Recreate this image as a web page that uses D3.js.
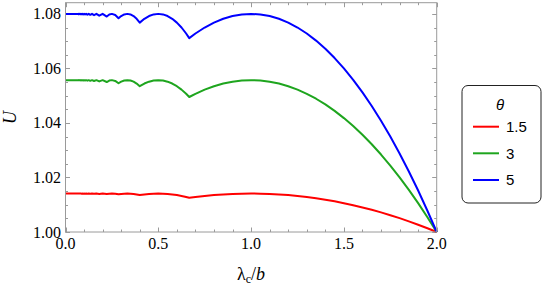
<!DOCTYPE html>
<html><head><meta charset="utf-8">
<script src="https://cdn.jsdelivr.net/npm/d3@7"></script>
<style>html,body{margin:0;padding:0;background:#fff;}svg{display:block;}</style>
</head><body>
<svg id="chart" width="545" height="289"></svg>
<script>
// ---- data ----
const lambdaOverB = [0, 0.06667, 0.06897, 0.07143, 0.07407, 0.07692, 0.08, 0.08333, 0.08696, 0.09091, 0.09524, 0.1, 0.10526, 0.11111, 0.11765, 0.125, 0.13333, 0.14286, 0.15385, 0.16667, 0.18182, 0.2, 0.22222, 0.2361, 0.25, 0.2679, 0.28571, 0.3, 0.31667, 0.33333, 0.35, 0.36667, 0.38333, 0.4, 0.425, 0.45, 0.475, 0.5, 0.525, 0.55, 0.575, 0.6, 0.625, 0.65, 0.66667, 0.7, 0.75, 0.8, 0.85, 0.9, 0.95, 1.0, 1.05, 1.1, 1.15, 1.2, 1.25, 1.3, 1.35, 1.4, 1.45, 1.5, 1.55, 1.6, 1.65, 1.7, 1.75, 1.8, 1.85, 1.9, 1.95, 2.0];

const uTheta15 = [1.0141, 1.0141, 1.01408, 1.0141, 1.01408, 1.0141, 1.01408, 1.0141, 1.01407, 1.0141, 1.01407, 1.0141, 1.01406, 1.0141, 1.01405, 1.0141, 1.01404, 1.0141, 1.01402, 1.0141, 1.01398, 1.0141, 1.01393, 1.01406, 1.0141, 1.01403, 1.01381, 1.01396, 1.01406, 1.0141, 1.01406, 1.01396, 1.01378, 1.01354, 1.01378, 1.01396, 1.01406, 1.0141, 1.01406, 1.01396, 1.01378, 1.01354, 1.01322, 1.01283, 1.01253, 1.01283, 1.01322, 1.01354, 1.01378, 1.01396, 1.01406, 1.0141, 1.01406, 1.01396, 1.01378, 1.01354, 1.01322, 1.01283, 1.01237, 1.01184, 1.01124, 1.01058, 1.00983, 1.00902, 1.00814, 1.00719, 1.00617, 1.00508, 1.00391, 1.00268, 1.00137, 1.0];

const uTheta3 = [1.0557, 1.0557, 1.05563, 1.0557, 1.05562, 1.0557, 1.05561, 1.0557, 1.05559, 1.0557, 1.05557, 1.0557, 1.05555, 1.0557, 1.05551, 1.0557, 1.05545, 1.0557, 1.05537, 1.0557, 1.05524, 1.0557, 1.05501, 1.05553, 1.0557, 1.05541, 1.05456, 1.05514, 1.05556, 1.0557, 1.05556, 1.05514, 1.05445, 1.05347, 1.05445, 1.05514, 1.05556, 1.0557, 1.05556, 1.05514, 1.05445, 1.05347, 1.05222, 1.05069, 1.04951, 1.05069, 1.05222, 1.05347, 1.05445, 1.05514, 1.05556, 1.0557, 1.05556, 1.05514, 1.05445, 1.05347, 1.05222, 1.05069, 1.04888, 1.04679, 1.04442, 1.04178, 1.03885, 1.03565, 1.03217, 1.02841, 1.02437, 1.02005, 1.01546, 1.01058, 1.00543, 1.0];

const uTheta5 = [1.08, 1.08, 1.0799, 1.08, 1.07989, 1.08, 1.07987, 1.08, 1.07985, 1.08, 1.07982, 1.08, 1.07978, 1.08, 1.07972, 1.08, 1.07964, 1.08, 1.07953, 1.08, 1.07934, 1.08, 1.07901, 1.07975, 1.08, 1.07959, 1.07837, 1.0792, 1.0798, 1.08, 1.0798, 1.0792, 1.0782, 1.0768, 1.0782, 1.0792, 1.0798, 1.08, 1.0798, 1.0792, 1.0782, 1.0768, 1.075, 1.0728, 1.07111, 1.0728, 1.075, 1.0768, 1.0782, 1.0792, 1.0798, 1.08, 1.0798, 1.0792, 1.0782, 1.0768, 1.075, 1.0728, 1.0702, 1.0672, 1.0638, 1.06, 1.0558, 1.0512, 1.0462, 1.0408, 1.035, 1.0288, 1.0222, 1.0152, 1.0078, 1.0];

const seriesNames = ["1.5", "3", "5"];
const seriesColors = ["#ff0000", "#1ea51e", "#0000ff"];
const xTickLabels = ["0.0", "0.5", "1.0", "1.5", "2.0"];
const yTickLabels = ["1.00", "1.02", "1.04", "1.06", "1.08"];
const xTickValues = [0, 0.5, 1.0, 1.5, 2.0];
const yTickValues = [1.00, 1.02, 1.04, 1.06, 1.08];

const series = [uTheta15, uTheta3, uTheta5];

// ---- layout ----
const svg = d3.select("#chart");
const L = 65.5, R = 436.7, T = 2.7, B = 232;
const x = d3.scaleLinear().domain([0, 2]).range([L, R]);
const y = d3.scaleLinear().domain([1.0, 1.0841]).range([B, T]);
const frameColor = "#9a9a9a";

// minor/major ticks (inside, on all four sides)
const xMinor = d3.range(0, 2.0001, 0.1).filter(v => !xTickValues.some(t => Math.abs(t - v) < 1e-6));
const yMinor = d3.range(1.0, 1.08401, 0.005).filter(v => !yTickValues.some(t => Math.abs(t - v) < 1e-6));

const g = svg.append("g");
function ticks(vals, len) {
  vals.forEach(v => {
    const px = Math.round(x(v)) + 0.5;
    g.append("line").attr("x1", px).attr("x2", px).attr("y1", B).attr("y2", B - len).attr("stroke", frameColor).attr("stroke-width", 1);
    g.append("line").attr("x1", px).attr("x2", px).attr("y1", T).attr("y2", T + len).attr("stroke", frameColor).attr("stroke-width", 1);
  });
}
function yticks(vals, len) {
  vals.forEach(v => {
    const py = Math.round(y(v)) + 0.5;
    g.append("line").attr("x1", L).attr("x2", L + len).attr("y1", py).attr("y2", py).attr("stroke", frameColor).attr("stroke-width", 1);
    g.append("line").attr("x1", R).attr("x2", R - len).attr("y1", py).attr("y2", py).attr("stroke", frameColor).attr("stroke-width", 1);
  });
}
ticks(xTickValues, 4.5); ticks(xMinor, 2.5);
yticks(yTickValues, 4.5); yticks(yMinor, 2.5);

// curves
const line = d3.line().x((d, i) => x(lambdaOverB[i])).y(d => y(d)).curve(d3.curveLinear);
series.forEach((s, k) => {
  svg.append("path").datum(s).attr("d", line).attr("fill", "none")
    .attr("stroke", seriesColors[k]).attr("stroke-width", 2).attr("stroke-linejoin", "round");
});

// frame
svg.append("rect").attr("x", L).attr("y", T).attr("width", R - L).attr("height", B - T)
  .attr("fill", "none").attr("stroke", frameColor).attr("stroke-width", 1);

// tick labels
const serif = "'Liberation Serif','Times New Roman',serif";
xTickValues.forEach((v, i) => {
  svg.append("text").attr("x", x(v)).attr("y", 248.5).attr("text-anchor", "middle")
    .attr("font-family", serif).attr("font-size", 16).attr("fill", "#000").text(xTickLabels[i]);
});
yTickValues.forEach((v, i) => {
  svg.append("text").attr("x", 61).attr("y", y(v) + 5.5).attr("text-anchor", "end")
    .attr("font-family", serif).attr("font-size", 16).attr("fill", "#000").text(yTickLabels[i]);
});

// axis titles
const xt = svg.append("text").attr("x", 251).attr("y", 280).attr("text-anchor", "middle")
  .attr("font-family", serif).attr("font-size", 18).attr("fill", "#000");
xt.append("tspan").text("λ");
xt.append("tspan").attr("font-size", 12).attr("dy", 3).text("c");
xt.append("tspan").attr("dy", -3).text("/");
xt.append("tspan").attr("font-style", "italic").text("b");

svg.append("text").attr("transform", "translate(16,117.5) rotate(-90)").attr("text-anchor", "middle")
  .attr("font-family", serif).attr("font-size", 18).attr("font-style", "italic").attr("fill", "#000").text("U");

// legend
const sans = "'Liberation Sans',Arial,sans-serif";
svg.append("rect").attr("x", 462).attr("y", 85.5).attr("width", 79).attr("height", 117.5)
  .attr("rx", 6).attr("ry", 6).attr("fill", "#fff").attr("stroke", "#222").attr("stroke-width", 1);
svg.append("text").attr("x", 500).attr("y", 110).attr("text-anchor", "middle")
  .attr("font-family", sans).attr("font-size", 15).attr("font-style", "italic").attr("fill", "#000").text("θ");
const rowY = [126.7, 153.3, 180];
seriesNames.forEach((nm, k) => {
  svg.append("line").attr("x1", 473).attr("x2", 499).attr("y1", rowY[k]).attr("y2", rowY[k])
    .attr("stroke", seriesColors[k]).attr("stroke-width", 2);
  svg.append("text").attr("x", 506).attr("y", rowY[k] + 5.3)
    .attr("font-family", sans).attr("font-size", 15).attr("fill", "#000").text(nm);
});
</script>
</body></html>
